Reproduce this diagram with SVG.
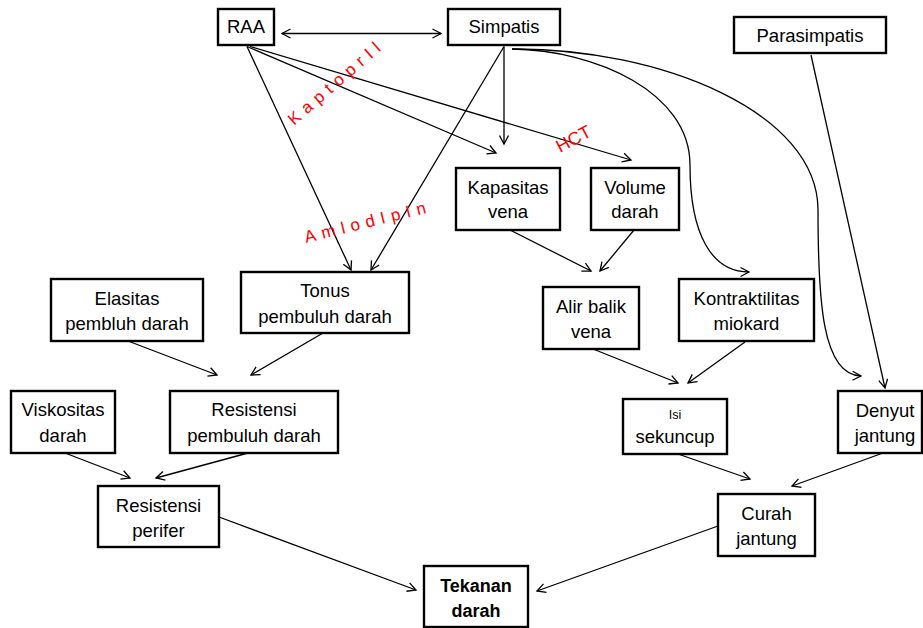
<svg xmlns="http://www.w3.org/2000/svg" width="923" height="628" viewBox="0 0 923 628">
<style>
.box{fill:#fff;stroke:#000;stroke-width:2.4}
.t{font-family:"Liberation Sans",Arial,sans-serif;font-size:18.5px;fill:#000;text-anchor:middle}
.b{font-weight:bold;font-size:18px}
.s{font-size:12.5px}
.c{fill:none;stroke:#000;stroke-width:1.3;marker-end:url(#ah)}
.red{font-family:"Liberation Sans",Arial,sans-serif;font-size:17px;fill:#ff0000}
</style>
<defs>
<marker id="ah" markerUnits="userSpaceOnUse" markerWidth="12" markerHeight="12" refX="9" refY="5" orient="auto-start-reverse" viewBox="0 0 12 10">
<path d="M0.5,0.5 L9,5 L0.5,9.5" fill="none" stroke="#000" stroke-width="1.3"/>
</marker>
</defs>
<rect width="923" height="628" fill="#fff"/>
<g id="connectors">
<line class="c" x1="282" y1="33.5" x2="441" y2="33.5" style="marker-start:url(#ah)"/>
<line class="c" x1="247" y1="46.5" x2="496" y2="153"/>
<line class="c" x1="250" y1="46.5" x2="631" y2="160"/>
<line class="c" x1="247" y1="46.5" x2="351" y2="270"/>
<line class="c" x1="504" y1="46.5" x2="371" y2="270"/>
<line class="c" x1="504" y1="46.5" x2="504" y2="144"/>
<path class="c" d="M512,49 C595,50 690,92 690,165 C690,235 712,272 749,272"/>
<path class="c" d="M512,49 C660,48 818,112 818,210 C818,300 822,375 861,376"/>
<line class="c" x1="811" y1="55" x2="885" y2="388"/>
<line class="c" x1="510" y1="230" x2="591" y2="271"/>
<line class="c" x1="634" y1="230" x2="600" y2="271"/>
<line class="c" x1="593" y1="349" x2="678" y2="383"/>
<line class="c" x1="745" y1="342" x2="688" y2="383"/>
<line class="c" x1="678" y1="454" x2="750" y2="479"/>
<line class="c" x1="883" y1="453" x2="792" y2="486"/>
<line class="c" x1="718" y1="526" x2="537" y2="591"/>
<line class="c" x1="128" y1="341" x2="217" y2="375"/>
<line class="c" x1="323" y1="333" x2="251" y2="375"/>
<line class="c" x1="65" y1="453" x2="130" y2="478"/>
<line class="c" x1="248" y1="453" x2="156" y2="478"/>
<line class="c" x1="219" y1="517" x2="416" y2="590"/>
</g>
<g id="raa"><rect class="box" x="218" y="9" width="56" height="36"/><text class="t" x="246" y="33">RAA</text></g>
<g id="simpatis"><rect class="box" x="448" y="9" width="112" height="36"/><text class="t" x="504" y="33">Simpatis</text></g>
<g id="parasimpatis"><rect class="box" x="734" y="17" width="152" height="36"/><text class="t" x="810" y="42">Parasimpatis</text></g>
<g id="kapasitas"><rect class="box" x="456" y="168" width="104" height="62"/><text class="t" x="508" y="194">Kapasitas</text><text class="t" x="508" y="218">vena</text></g>
<g id="volume"><rect class="box" x="591" y="168" width="88" height="62"/><text class="t" x="635" y="194">Volume</text><text class="t" x="635" y="218">darah</text></g>
<g id="kontraktilitas"><rect class="box" x="679" y="279" width="135" height="62"/><text class="t" x="746.5" y="305">Kontraktilitas</text><text class="t" x="746.5" y="330">miokard</text></g>
<g id="alir"><rect class="box" x="543" y="287" width="96" height="62"/><text class="t" x="591" y="313">Alir balik</text><text class="t" x="591" y="338">vena</text></g>
<g id="isi"><rect class="box" x="623" y="399" width="104" height="55"/><text class="t s" x="675" y="419">Isi</text><text class="t" x="675" y="443">sekuncup</text></g>
<g id="denyut"><rect class="box" x="838" y="391" width="84" height="62"/><text class="t" x="885" y="417">Denyut</text><text class="t" x="885" y="442">jantung</text></g>
<g id="curah"><rect class="box" x="718" y="494" width="97" height="62"/><text class="t" x="766.5" y="520">Curah</text><text class="t" x="766.5" y="545">jantung</text></g>
<g id="tekanan"><rect class="box" x="424" y="566" width="104" height="61"/><text class="t b" x="476" y="592">Tekanan</text><text class="t b" x="476" y="617">darah</text></g>
<g id="elasitas"><rect class="box" x="51" y="279" width="152" height="62"/><text class="t" x="127" y="305">Elasitas</text><text class="t" x="127" y="330">pembluh darah</text></g>
<g id="tonus"><rect class="box" x="241" y="272" width="168" height="61"/><text class="t" x="325" y="297">Tonus</text><text class="t" x="325" y="323">pembuluh darah</text></g>
<g id="viskositas"><rect class="box" x="11" y="391" width="104" height="62"/><text class="t" x="63" y="416">Viskositas</text><text class="t" x="63" y="442">darah</text></g>
<g id="resistensi-pd"><rect class="box" x="170" y="391" width="168" height="62"/><text class="t" x="254" y="416">Resistensi</text><text class="t" x="254" y="442">pembuluh darah</text></g>
<g id="resistensi-perifer"><rect class="box" x="98" y="486" width="121" height="61"/><text class="t" x="158.5" y="512">Resistensi</text><text class="t" x="158.5" y="537">perifer</text></g>
<g id="labels">
<text class="red" x="0" y="0" letter-spacing="6" transform="translate(294,126) rotate(-41)">KaptoprIl</text>
<text class="red" x="0" y="0" letter-spacing="6" transform="translate(306,243) rotate(-14)">AmlodIpIn</text>
<text class="red" x="0" y="0" style="font-size:18px" transform="translate(560,153) rotate(-28)">HCT</text>
</g>
</svg>
